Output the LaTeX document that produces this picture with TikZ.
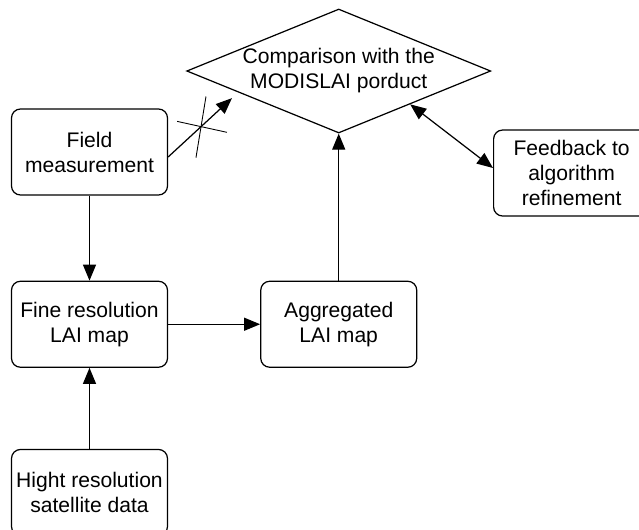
\documentclass[tikz,border=0pt]{standalone}
\usepackage{fontspec}
\setmainfont{Liberation Sans}
\usetikzlibrary{shapes.geometric, arrows.meta, positioning}
\tikzstyle{roundnode} = [
	rectangle,
	rounded corners=0.18cm,
	minimum width=3.12cm,
	minimum height=1.72cm,
	inner sep=1pt,
	align=center,
	draw=black,
	line width=0.7pt,
	font=\fontsize{12}{14.2}\selectfont
]
\tikzstyle{decision} = [
	diamond,
	shape aspect=2.45,
	minimum width=6.08cm,
	minimum height=2.48cm,
	inner sep=0pt,
	align=center,
	draw=black,
	line width=0.7pt,
	font=\fontsize{12}{14.2}\selectfont
]
\tikzstyle{arrow} = [line width=0.7pt,->,>={Triangle[length=3.2mm,width=2.6mm]}]
\tikzstyle{twoway} = [line width=0.7pt,<->,>={Triangle[length=3.2mm,width=2.6mm]}]

\begin{document}
\begin{tikzpicture}
	\useasboundingbox (0,0) rectangle (12.78,-10.58);
	\node (field) [roundnode] at (1.79,-3.04) {Field\\measurement};
	\node (fine) [roundnode, below=1.7cm of field] {Fine resolution\\LAI map};
	\node (highres) [roundnode, below=1.62cm of fine] {Hight resolution\\satellite data};
	\node (agg) [roundnode, right=1.84cm of fine] {Aggregated\\LAI map};
	\node (compare) [decision, above=2.94cm of agg] {Comparison with the\\MODISLAI porduct};
	\node (feedback) [roundnode, anchor=west] at (9.86,-3.46) {Feedback to\\algorithm\\refinement};

	\draw [arrow] (field) -- (fine);
	\draw [arrow] (highres) -- (fine);
	\draw [arrow] (fine) -- (agg);
	\draw [arrow] (agg) -- (compare.south);
	\draw [arrow, shorten >=0.17cm] ([yshift=-0.1cm]field.east) -- coordinate[pos=0.47] (cut) (compare.192);
	\draw [twoway] (compare.-25) -- ([yshift=0.1cm]feedback.west);

	% crossed-out link
	\draw [line width=0.5pt] (cut) ++(167.6:0.49) -- ++(-12.4:1.02);
	\draw [line width=0.5pt] (cut) ++(80.7:0.61) -- ++(260.7:1.24);
\end{tikzpicture}
\end{document}
